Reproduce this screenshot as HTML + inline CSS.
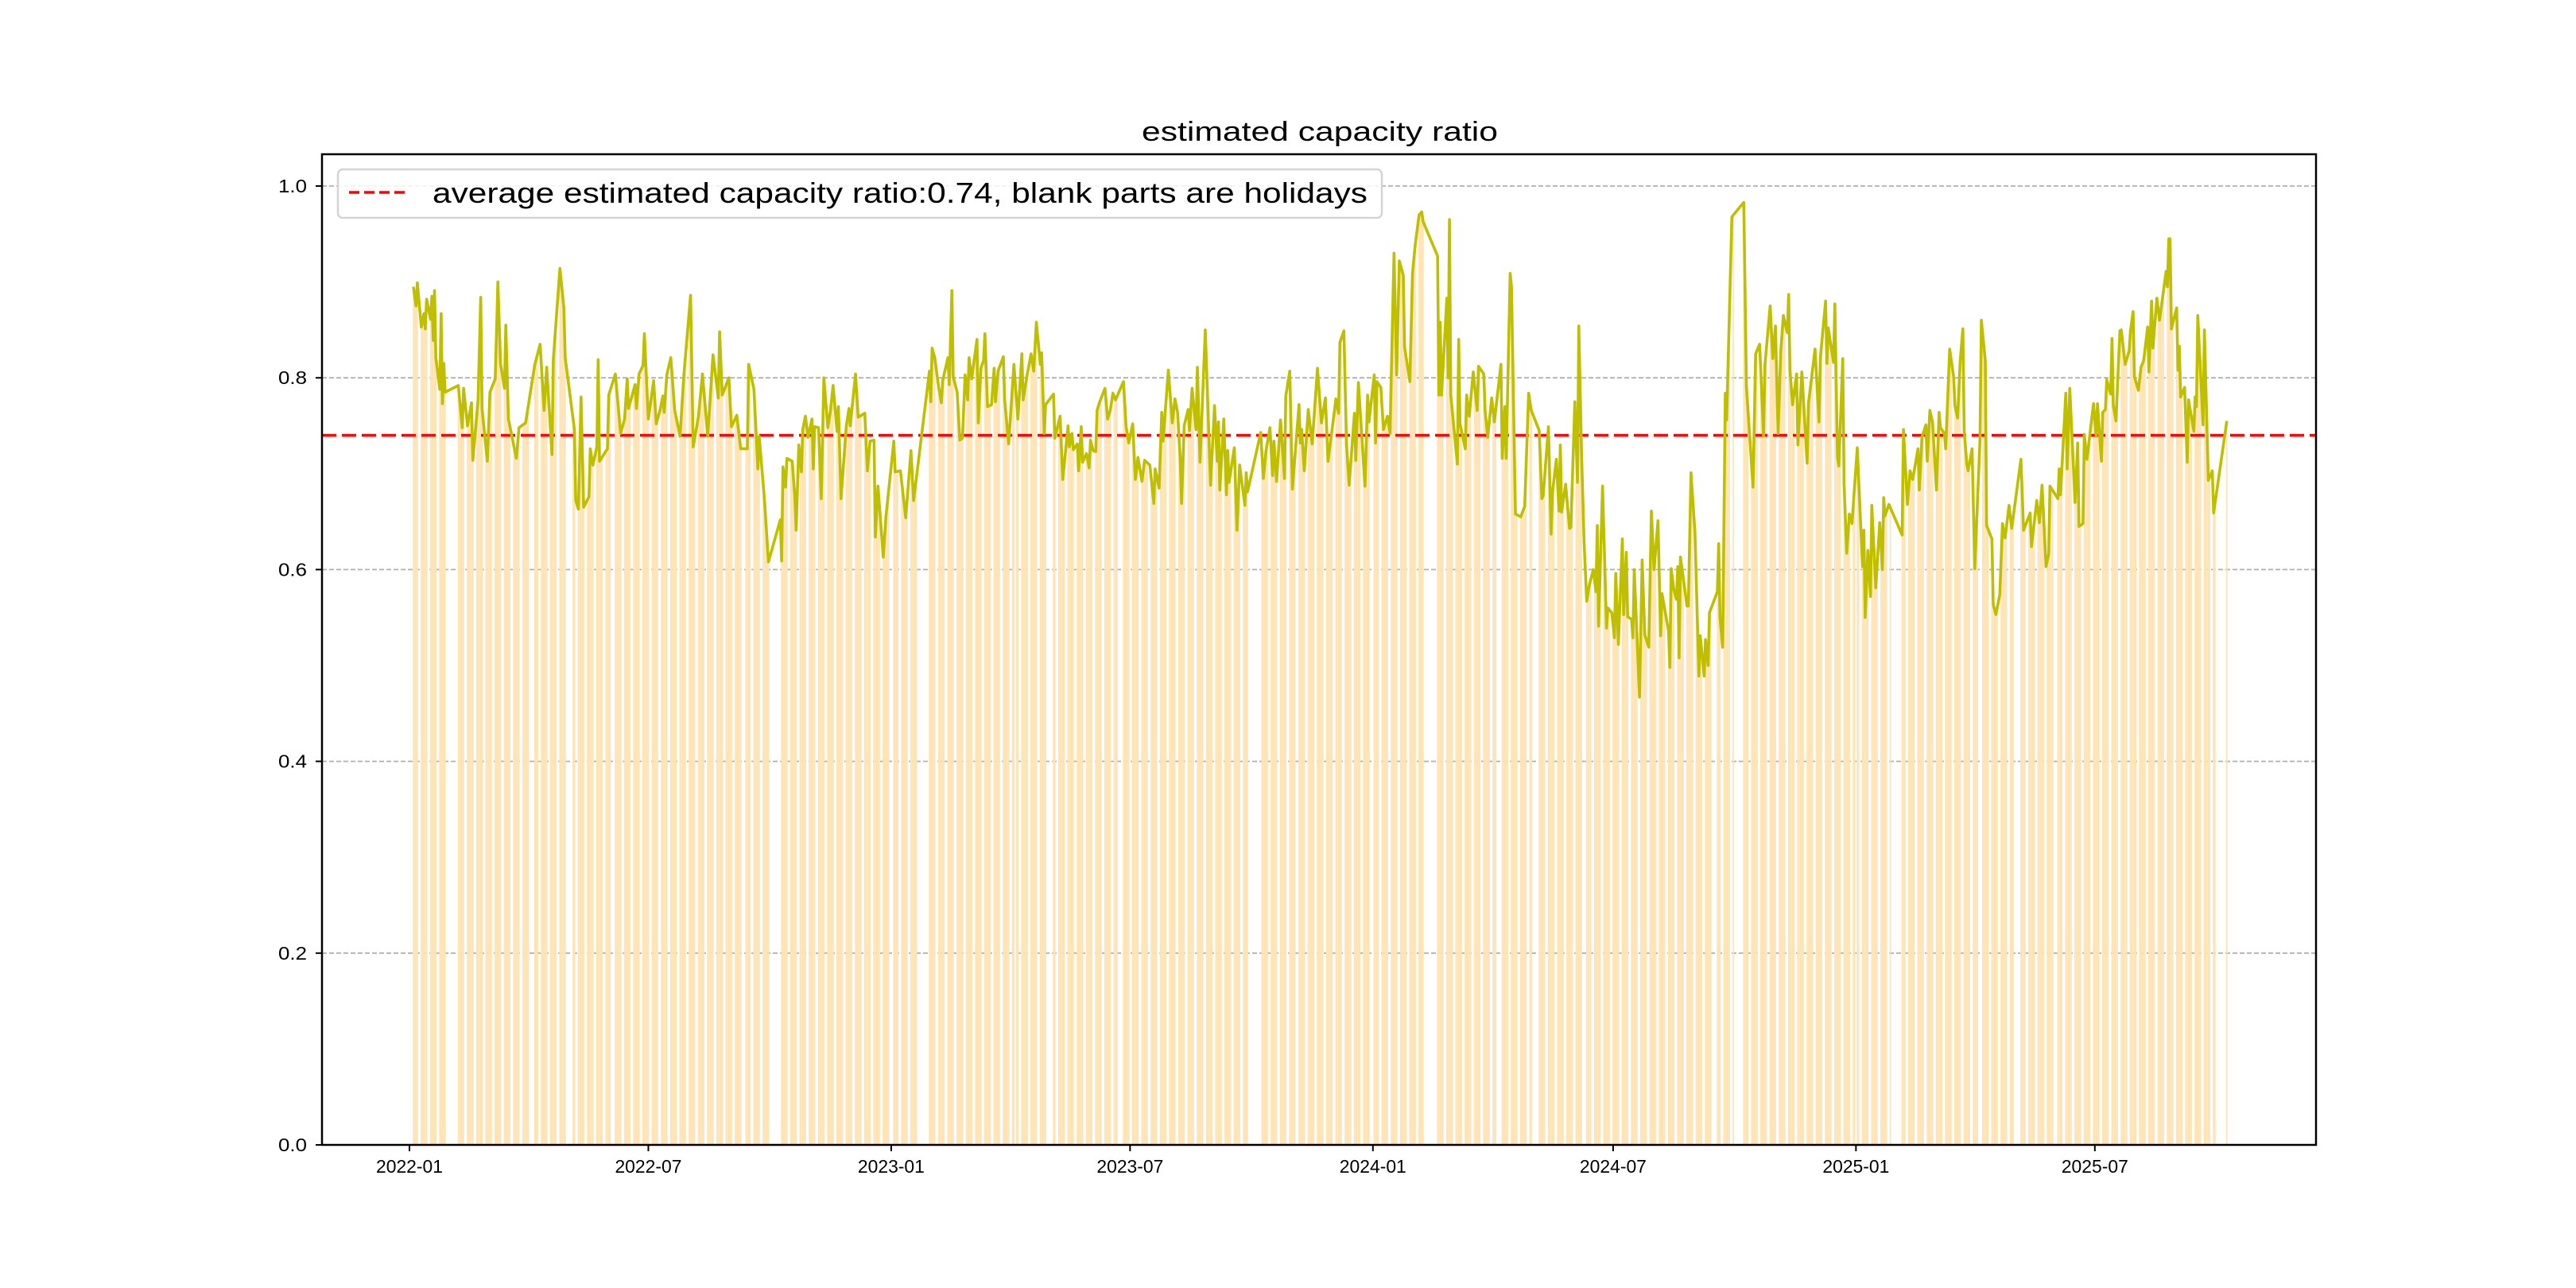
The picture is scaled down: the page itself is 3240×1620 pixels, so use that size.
<!DOCTYPE html>
<html><head><meta charset="utf-8">
<style>
html,body{margin:0;padding:0;background:#fff;}
svg{display:block;}
text{font-family:"Liberation Sans","WenQuanYi Zen Hei",sans-serif;fill:#000;}
</style></head>
<body>
<svg id="chart" width="3240" height="1620" viewBox="0 0 3240 1620" xmlns="http://www.w3.org/2000/svg">
  <rect x="0" y="0" width="3240" height="1620" fill="#fff"/>
  <text x="1436" y="177" font-size="34" textLength="448" lengthAdjust="spacingAndGlyphs">estimated capacity ratio</text>
  <g id="grid"></g>
  <g id="bars"></g>
  <g id="avg"></g>
  <g id="lineg"></g>
  <g id="axes"></g>
  <g id="legend">
    <rect x="425" y="213" width="1313" height="61" rx="6" fill="#fff" fill-opacity="0.85" stroke="#d4d4d4" stroke-width="2.5"/>
    <line x1="439" y1="242" x2="514" y2="242" stroke="#ff0000" stroke-width="3.5" stroke-dasharray="13,6"/>
    <text x="544" y="255" font-size="36" textLength="1176" lengthAdjust="spacingAndGlyphs">average estimated capacity ratio:0.74, blank parts are holidays</text>
  </g>
</svg>
<script>
const days = [3,5,6,9,11,12,13,16,17,18,19,20,23,24,25,26,27,37,40,41,44,47,48,52,54,55,59,61,65,67,69,72,73,75,81,83,88,95,99,102,104,108,109,114,117,118,125,126,128,130,132,136,137,139,142,143,144,150,151,156,160,163,165,166,171,172,174,177,178,181,185,187,190,192,193,195,198,201,205,208,213,215,219,222,226,230,234,235,237,242,244,248,251,256,257,261,264,265,269,272,281,282,283,285,286,290,
292,293,295,297,298,300,302,305,306,307,310,312,314,317,319,321,324,325,327,331,333,334,338,340,345,347,349,352,353,355,359,361,367,368,372,376,380,382,394,395,396,398,401,403,404,408,409,411,412,415,417,419,421,423,424,426,430,431,433,435,436,438,441,443,444,446,450,451,454,458,461,464,465,468,471,473,475,478,479,481,482,488,489,493,495,499,500,502,503,506,507,509,510,513,515,516,518,520,521,523,527,529,531,533,535,541,543,545,548,550,552,555,557,561,564,565,568,570,571,575,578,580,582,584,585,587,590,591,
593,596,597,599,603,607,610,612,613,614,617,619,620,621,625,627,629,633,634,635,645,647,649,652,654,655,657,660,663,664,667,669,674,675,676,678,681,684,688,691,694,696,702,704,705,708,710,712,716,717,719,724,726,727,731,732,733,736,738,741,743,744,746,748,750,753,754,758,760,762,765,767,768,779,780,781,782,786,787,788,789,794,795,796,800,801,803,806,809,810,814,815,817,820,822,827,828,830,831,834,835,838,842,845,848,850,856,858,859,863,
865,866,869,871,872,873,876,879,880,883,885,886,888,890,892,894,897,899,900,901,904,907,908,911,913,914,916,919,920,922,923,926,927,928,932,934,936,939,941,943,946,948,949,954,955,956,958,960,961,962,963,968,969,971,974,977,978,981,982,984,985,991,992,993,995,997,998,1002,1011,1013,1018,1020,1023,1024,1026,1027,1031,1033,1035,1037,1039,1041,1044,1045,1046,1048,1051,1052,1055,1059,1060,1065,1068,1069,1073,1074,1075,1079,1080,1082,1083,1086,1087,1089,1091,1093,1097,1101,1102,1103,1105,1107,1108,1111,1114,1116,1117,1118,1121,1131,1132,
1135,1137,1139,1143,1144,1146,1149,1150,1152,1154,1157,1159,1160,1163,1164,1167,1170,1171,1173,1175,1177,1178,1180,1181,1184,1186,1190,1191,1194,1195,1199,1200,1202,1205,1207,1209,1212,1214,1221,1223,1228,1229,1233,1235,1237,1240,1242,1243,1249,1250,1251,1255,1256,1258,1262,1264,1265,1268,1269,1271,1276,1278,1279,1282,1283,1285,1286,1289,1290,1291,1293,1296,1297,1300,1303,1304,1306,1307,1310,1312,1314,1317,1318,1320,1321,1324,1326,1331,1332,1333,1334,1335,1339,1340,1341,1342,1345,1347,1348,1352,1353,1354,1355,1359,1360,1363,1366,1367,1377];
const ratios = [.895,.875,.899,.853,.867,.851,.882,.861,.885,.839,.891,.821,.788,.867,.773,.815,.785,.792,.748,.789,.750,.774,.714,.777,.884,.768,.713,.785,.799,.900,.815,.789,.855,.757,.716,.748,.753,.814,.835,.766,.811,.720,.819,.914,.873,.821,.746,.672,.663,.780,.665,.676,.726,.709,.728,.819,.713,.726,.782,.804,.742,.757,.799,.768,.793,.768,.804,.813,.846,.757,.797,.752,.767,.781,.764,.803,.821,.766,.739,.804,.886,.728,.760,.804,.739,.824,.779,.848,.782,.800,.749,.761,.726,.726,.814,.788,.705,.739,.673,.608,.652,.609,.707,.686,.716,.713,
.676,.641,.730,.702,.746,.760,.738,.757,.705,.749,.748,.674,.800,.748,.766,.792,.744,.770,.674,.750,.768,.750,.804,.759,.763,.703,.734,.735,.634,.687,.613,.655,.734,.702,.703,.654,.724,.672,.807,.775,.831,.821,.790,.774,.797,.821,.793,.891,.801,.785,.735,.737,.803,.777,.821,.799,.840,.753,.810,.818,.846,.770,.772,.810,.775,.807,.822,.777,.731,.814,.757,.825,.777,.803,.825,.807,.858,.814,.826,.742,.772,.783,.737,.760,.694,.750,.728,.742,.725,.731,.703,.749,.712,.721,.706,.735,.724,.723,.766,.775,.789,.757,.766,.784,.777,.796,.749,.732,.752,.694,.717,.692,.714,.709,.669,.705,.685,.764,.734,.808,.753,.778,.764,.716,.669,.750,.767,.745,
.789,.746,.811,.712,.850,.688,.771,.713,.754,.683,.757,.678,.724,.691,.727,.641,.709,.667,.701,.681,.743,.695,.724,.748,.698,.734,.692,.756,.695,.781,.807,.684,.772,.732,.746,.703,.767,.731,.810,.753,.779,.713,.778,.763,.837,.849,.731,.688,.763,.714,.795,.687,.782,.754,.803,.732,.796,.790,.746,.760,.742,.808,.930,.803,.922,.907,.832,.796,.909,.938,.970,.973,.963,.927,.782,.858,.782,.883,.800,.965,.782,.710,.840,.752,.726,.782,.760,.806,.766,.812,.804,.766,.738,.779,.754,.814,.716,.770,.716,.909,.895,.658,.655,.666,.784,.766,.745,.674,.677,.749,
.637,.680,.715,.661,.730,.660,.689,.643,.644,.775,.691,.854,.725,.629,.567,.584,.600,.577,.646,.541,.687,.539,.560,.555,.529,.596,.522,.632,.553,.618,.551,.548,.529,.600,.467,.610,.532,.519,.661,.600,.651,.531,.575,.536,.498,.601,.579,.569,.603,.508,.613,.562,.562,.701,.639,.489,.531,.489,.527,.500,.555,.577,.627,.550,.519,.784,.756,.968,.983,.791,.686,.825,.835,.804,.739,.813,.875,.820,.854,.742,.827,.865,.847,.887,.808,.772,.804,.730,.806,.711,.773,.830,.754,.820,.880,.815,.852,.816,.877,.718,.708,.820,.689,.617,.658,.648,.727,.603,.641,.550,.620,.572,.667,.581,.649,.600,.675,.656,.668,.636,.746,
.668,.703,.694,.726,.683,.738,.751,.713,.766,.754,.683,.764,.748,.742,.726,.830,.801,.771,.758,.818,.851,.745,.710,.703,.726,.601,.736,.860,.818,.646,.632,.564,.553,.574,.648,.633,.667,.643,.715,.641,.659,.624,.672,.649,.688,.603,.616,.687,.674,.705,.678,.784,.705,.789,.670,.732,.645,.648,.741,.715,.773,.739,.773,.713,.764,.767,.798,.783,.841,.771,.755,.849,.850,.814,.828,.849,.869,.801,.787,.811,.818,.853,.806,.880,.831,.883,.860,.911,.895,.945,.945,.851,.873,.808,.833,.780,.790,.712,.777,.744,.780,.770,.865,.751,.850,.693,.703,.659,.755];
const holidayStarts = [0,30,92,119,153,252,273,365,385,459,483,537,636,730,769,824,851,891,989,1004,1096,1123,1189,1216,1248,1369];
const holidayEnds   = [2,36,94,123,153,254,279,366,391,459,487,538,643,730,777,825,855,891,990,1010,1096,1130,1189,1220,1248,1376];
const averageRatio = 0.74;
const yTicks = [0.0,0.2,0.4,0.6,0.8,1.0];
const yTickLabels = ["0.0","0.2","0.4","0.6","0.8","1.0"];
const xTickDays = [0,181,365,546,730,912,1096,1277];
const xTickLabels = ["2022-01","2022-07","2023-01","2023-07","2024-01","2024-07","2025-01","2025-07"];

const NS = "http://www.w3.org/2000/svg";
const L = 405, R = 2913, T = 194, B = 1440;
const X0 = 515, PXDAY = 1.66, PXUNIT = 1206;
function xs(d){ return X0 + d * PXDAY; }
function ys(v){ return B - v * PXUNIT; }
function mk(tag, attrs, parent){
  const e = document.createElementNS(NS, tag);
  for (const k in attrs) e.setAttribute(k, attrs[k]);
  parent.appendChild(e);
  return e;
}
function valueAt(d){
  if (d <= days[0]) return ratios[0];
  for (let i = 1; i < days.length; i++){
    if (d <= days[i]){
      const t = (d - days[i-1]) / (days[i] - days[i-1]);
      return ratios[i-1] + t * (ratios[i] - ratios[i-1]);
    }
  }
  return ratios[ratios.length-1];
}
function isHoliday(d){
  for (let i = 0; i < holidayStarts.length; i++) if (d >= holidayStarts[i] && d <= holidayEnds[i]) return true;
  return false;
}

const grid = document.getElementById('grid');
yTicks.forEach((v, i) => {
  if (v === 0) return;
  const g = mk('line', {x1:L, x2:R, y1:ys(v), y2:ys(v), stroke:'#b0b0b0', 'stroke-width':1.8, 'stroke-dasharray':'6,3'}, grid);
  
  
});

const bars = document.getElementById('bars');
const firstDay = days[0], lastDay = days[days.length-1];
for (let d = firstDay; d <= lastDay; d++){
  const dow = (6 + d) % 7;
  if (dow === 0 || dow === 6 || isHoliday(d)) continue;
  const v = valueAt(d);
  const r = mk('rect', {x:xs(d) - PXDAY*0.5, y:ys(v), width:PXDAY, height:B - ys(v), fill:'#ffe3b4'}, bars);
  
  
}

const avgG = document.getElementById('avg');
const al = mk('line', {x1:L, x2:R, y1:ys(averageRatio), y2:ys(averageRatio), stroke:'#ff0000', 'stroke-width':3.5, 'stroke-dasharray':'18,7'}, avgG);



const lineG = document.getElementById('lineg');
let dstr = '';
days.forEach((d, i) => { dstr += (i ? 'L' : 'M') + xs(d).toFixed(2) + ',' + ys(ratios[i]).toFixed(2); });
const pl = mk('path', {d:dstr, fill:'none', stroke:'#bfbf00', 'stroke-width':3.6, 'stroke-linejoin':'round'}, lineG);



const axes = document.getElementById('axes');
const frame = mk('rect', {x:L, y:T, width:R-L, height:B-T, fill:'none', stroke:'#000', 'stroke-width':2.5}, axes);


yTicks.forEach((v, i) => {
  const t = mk('line', {x1:L-8, x2:L, y1:ys(v), y2:ys(v), stroke:'#000', 'stroke-width':2}, axes);
  
  
  const lb = mk('text', {x:L-55, y:ys(v)+8, 'font-size':23, textLength:36, lengthAdjust:'spacingAndGlyphs'}, axes);
  lb.textContent = yTickLabels[i];
  
  
});
xTickDays.forEach((d, i) => {
  const t = mk('line', {x1:xs(d), x2:xs(d), y1:B, y2:B+8, stroke:'#000', 'stroke-width':2}, axes);
  
  
  const lb = mk('text', {x:xs(d)-42, y:B+35, 'font-size':23, textLength:84, lengthAdjust:'spacingAndGlyphs'}, axes);
  lb.textContent = xTickLabels[i];
  
  
});
</script>
</body></html>
